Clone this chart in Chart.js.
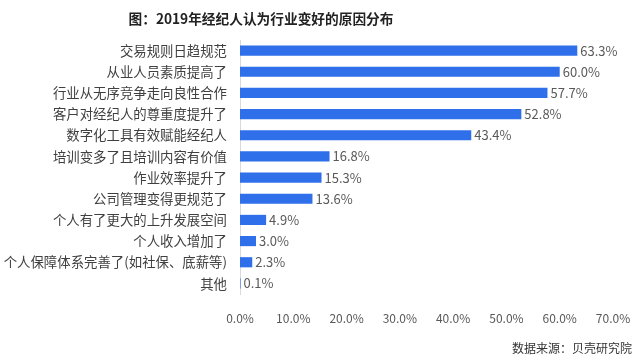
<!DOCTYPE html>
<html><head><meta charset="utf-8">
<script src="https://cdn.jsdelivr.net/npm/chart.js@4"></script>
<style>html,body{margin:0;padding:0;background:#fff}#wrap{width:640px;height:360px;position:relative}</style>
</head><body><div id="wrap"><canvas id="c" width="640" height="360"></canvas></div>
<script>
const titleText = '图：2019年经纪人认为行业变好的原因分布';
const sourceText = '数据来源：贝壳研究院';
const categories = ['交易规则日趋规范','从业人员素质提高了','行业从无序竞争走向良性合作','客户对经纪人的尊重度提升了','数字化工具有效赋能经纪人','培训变多了且培训内容有价值','作业效率提升了','公司管理变得更规范了','个人有了更大的上升发展空间','个人收入增加了','个人保障体系完善了(如社保、底薪等)','其他'];
const values = [63.3,60.0,57.7,52.8,43.4,16.8,15.3,13.6,4.9,3.0,2.3,0.1];
const xTicks = [0,10,20,30,40,50,60,70];
const FONT = '"Noto Sans CJK SC","Noto Sans",sans-serif';

const extras = {
  id:'extras',
  afterDatasetsDraw(chart){
    const ctx = chart.ctx;
    const meta = chart.getDatasetMeta(0);
    ctx.save();
    ctx.font = '13px ' + FONT;
    ctx.fillStyle = '#595959';
    ctx.textBaseline = 'middle';
    ctx.textAlign = 'left';
    meta.data.forEach((bar,i)=>{
      ctx.fillText(values[i].toFixed(1)+'%', bar.x + 3, bar.y);
    });
    ctx.restore();
  },
  afterDraw(chart){
    const ctx = chart.ctx;
    ctx.save();
    ctx.font = 'bold 13.7px ' + FONT;
    ctx.fillStyle = '#222';
    ctx.textAlign = 'center';
    ctx.textBaseline = 'middle';
    ctx.fillText(titleText, 261, 19);
    ctx.font = '12px ' + FONT;
    ctx.fillStyle = '#333';
    ctx.textAlign = 'right';
    ctx.fillText(sourceText, 632, 348);
    ctx.restore();
  }
};

new Chart(document.getElementById('c'), {
  type:'bar',
  data:{labels:categories, datasets:[{data:values, backgroundColor:'#2F6FEA', categoryPercentage:0.48, barPercentage:1}]},
  options:{
    indexAxis:'y',
    responsive:false,
    animation:false,
    layout:{padding:{left:0,right:27,top:40,bottom:30}},
    plugins:{legend:{display:false},tooltip:{enabled:false}},
    scales:{
      x:{min:0,max:70,
        afterBuildTicks(s){ s.ticks = xTicks.map(v=>({value:v})); },
        afterFit(s){ s.height = 36; s.paddingLeft = 0; s.paddingRight = 0; },
        grid:{display:false,drawTicks:false},
        border:{display:false},
        ticks:{padding:17,color:'#595959',font:{family:FONT,size:12},callback:v=>Number(v).toFixed(1)+'%'}
      },
      y:{
        afterFit(s){ s.width = 240; s.paddingTop = 0; s.paddingBottom = 0; },
        grid:{display:false,drawTicks:false},
        border:{display:true,color:'#d9d9d9',width:1},
        ticks:{padding:13,color:'#404040',font:{family:FONT,size:13.4}}
      }
    }
  },
  plugins:[extras]
});
</script></body></html>
